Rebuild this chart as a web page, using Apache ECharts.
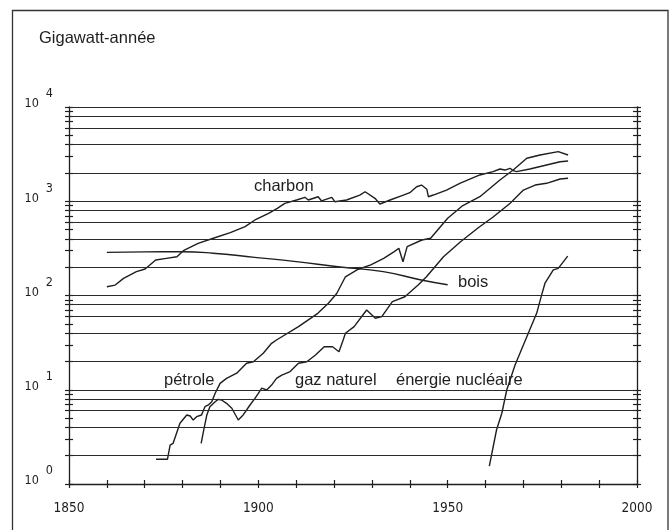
<!DOCTYPE html>
<html><head><meta charset="utf-8">
<script src="https://cdn.jsdelivr.net/npm/echarts@6/dist/echarts.min.js"></script>
<style>html,body{margin:0;padding:0;background:#fff}#c{width:669px;height:530px}</style>
</head><body><div id="c"></div>
<script>
// ---- data (Gigawatt-année, échelle logarithmique) ----
const charbonYears  = [1860,1862.2,1864.4,1867.8,1870.1,1872.9,1875.7,1878.5,1880.2,1884.1,1888.1,1892.6,1896.5,1899.4,1902.7,1905,1907,1910.1,1912.3,1913.2,1915.8,1916.7,1919.4,1920.2,1923.3,1926.8,1928.2,1930.8,1932.1,1934.8,1938.3,1940,1941.8,1943.1,1944.5,1944.9,1946.2,1949.7,1953.2,1958.5,1962,1963.8,1965.1,1966.5,1967.3,1968.2,1971.7,1976.1,1979.7,1981.8];
const charbonValues = [124,129,152,179,191,238,248,258,299,358,405,464,537,644,745,840,950,1031,1101,1031,1117,1007,1101,989,1031,1164,1262,1074,935,1031,1164,1233,1426,1486,1340,1117,1164,1315,1550,1900,2060,2198,2143,2237,2110,2060,2198,2423,2628,2673];

const boisYears  = [1860,1870,1880,1888,1899,1910,1921,1933,1943,1950];
const boisValues = [287,290,291,281,254,229,202,179,146,130];

const petroleYears  = [1873,1876,1876.7,1877.5,1879.3,1881.1,1882,1882.8,1883.7,1885,1885.9,1886.8,1887.7,1888.6,1889.9,1891.6,1894.3,1896.9,1898.7,1901.3,1903.5,1904.8,1910.6,1915.7,1918.5,1920.7,1923,1926.4,1929.7,1933.1,1935.9,1937.1,1938.2,1939.3,1943.2,1945.5,1950,1954,1958.5,1963.8,1967.3,1970.9,1974.4,1979.2,1981.8];
const petroleValues = [1.83,1.83,2.59,2.70,4.41,5.40,5.27,4.77,5.18,5.40,6.61,6.89,7.47,9.17,11.7,13.2,15.0,19.1,19.8,24.4,31.1,33.7,46.7,64.7,82.6,105,158,190,211,248,292,317,228,330,388,405,659,900,1117,1680,2145,2857,3097,3357,3097];

const gazYears  = [1884.9,1885.5,1886.4,1887.2,1888.6,1889.4,1890.3,1891.6,1893,1894.7,1896,1897.8,1899.1,1900,1900.9,1902.2,1903.5,1904.8,1906.2,1908.4,1910.6,1912.8,1915.1,1917.4,1919.6,1921.3,1922.4,1923,1925.3,1928.6,1930.9,1932.6,1935.4,1938.7,1942.2,1944.4,1948.9,1953.4,1958,1962,1966.5,1970,1973.1,1976.1,1979.7,1981.8];
const gazValues = [2.70,3.59,5.40,6.61,7.47,7.91,7.78,7.18,6.36,4.78,5.40,6.89,8.11,9.17,10.4,9.94,11.2,13.2,14.3,15.6,19.1,19.8,23.4,28.6,28.6,25.3,33.7,39.7,46.7,70.2,57.3,59.6,86,97,129,158,258,372,520,680,951,1315,1486,1550,1722,1751];

const nucleaireYears  = [1961,1962.9,1964.3,1965.6,1967.8,1970.9,1973.5,1974.8,1975.7,1977.9,1979.2,1981.7];
const nucleaireValues = [1.55,3.74,5.63,9.94,18.3,36.5,64.7,101,135,187,194,262];

const xTickYears = [1850,1900,1950,2000];
const yDecades = [1,10,100,1000,10000];
const yGridValues = [2,4,6,8,10,20,40,60,80,100,200,400,600,800,1000,2000,4000,6000,8000,10000];
const yMinorTicks = [];
for (let k = 0; k < 4; k++) for (let m = 1; m <= 9; m++) yMinorTicks.push(m * Math.pow(10, k));
yMinorTicks.push(10000);

const seriesNames = ['charbon','bois','pétrole','gaz naturel','énergie nucléaire'];
const annotations = [
  {text:'charbon', x:254, y:186},
  {text:'bois', x:458, y:282},
  {text:'pétrole', x:164, y:380},
  {text:'gaz naturel', x:295, y:380},
  {text:'énergie nucléaire', x:396, y:380}
];

function pairs(xs, ys){ return xs.map((x,i)=>[x, ys[i]]); }

const INK = '#1e1e1e';
const labelFont = 'DejaVu Sans Condensed';
const textFont = '16.5px "Liberation Sans", Arial, sans-serif';

const chart = echarts.init(document.getElementById('c'), null, {renderer:'canvas'});

function yAx(pos, inside, main){
  return {
    type:'log', logBase:10, min:1, max:10000, position:pos, offset:0,
    axisLine:{show:main, lineStyle:{color:INK, width:1.3}},
    axisTick:{show:true, inside:inside, length:4, customValues:yMinorTicks, lineStyle:{color:INK, width:1.2}},
    axisLabel: (main && pos==='left') ? {
      show:true, customValues:yDecades, margin:16,
      formatter: v => '{b|10}{e|' + Math.round(Math.log10(v)) + '}',
      padding:[0,0,16,0],
      rich:{
        b:{fontSize:12.5, fontFamily:labelFont, color:INK, padding:[10,0,0,0]},
        e:{fontSize:12.5, fontFamily:labelFont, color:INK, padding:[0,0,10,7]}
      }
    } : {show:false},
    splitLine:{show:false}
  };
}
function xAx(inside, main){
  return {
    type:'value', min:1850, max:2000, interval:10, position:'bottom',
    axisLine:{show:main, lineStyle:{color:INK, width:1.3}},
    axisTick:{show:true, inside:inside, length:4, lineStyle:{color:INK, width:1.2}},
    axisLabel: main ? {
      show:true, margin:17, fontSize:13.5, fontFamily:labelFont, color:INK,
      formatter: v => xTickYears.indexOf(v) >= 0 ? String(v) : ''
    } : {show:false},
    splitLine:{show:false}
  };
}

const lineStyle = {color:INK, width:1.4};
const series = [
  {name:seriesNames[0], data:pairs(charbonYears, charbonValues)},
  {name:seriesNames[1], data:pairs(boisYears, boisValues), smooth:true},
  {name:seriesNames[2], data:pairs(petroleYears, petroleValues)},
  {name:seriesNames[3], data:pairs(gazYears, gazValues)},
  {name:seriesNames[4], data:pairs(nucleaireYears, nucleaireValues)}
].map(s => Object.assign({type:'line', xAxisIndex:0, yAxisIndex:0, showSymbol:false, symbol:'none', lineStyle:lineStyle, z:3}, s));

series[0].markLine = {
  silent:true, symbol:['none','none'], animation:false,
  label:{show:false},
  lineStyle:{color:'#2a2a2a', width:1.1, type:'solid'},
  data: yGridValues.map(v => ({yAxis:v}))
};

chart.setOption({
  animation:false,
  backgroundColor:'#fff',
  grid:{left:69, right:32, top:107, bottom:46, containLabel:false},
  xAxis:[xAx(false,true), xAx(true,false)],
  yAxis:[yAx('left',false,true), yAx('left',true,false), yAx('right',false,true), yAx('right',true,false)],
  series: series,
  graphic:[
    {type:'rect', shape:{x:12.5, y:10.5, width:655.5, height:540}, style:{fill:'none', stroke:'#333', lineWidth:1.3}, z:-10, silent:true},
    {type:'text', x:39, y:38, style:{text:'Gigawatt-année', font:'16.5px "Liberation Sans", Arial, sans-serif', fill:INK, verticalAlign:'middle'}}
  ].concat(annotations.map(a => ({type:'text', x:a.x, y:a.y, style:{text:a.text, font:textFont, fill:INK, verticalAlign:'middle', align:'left'}})))
});
</script></body></html>
